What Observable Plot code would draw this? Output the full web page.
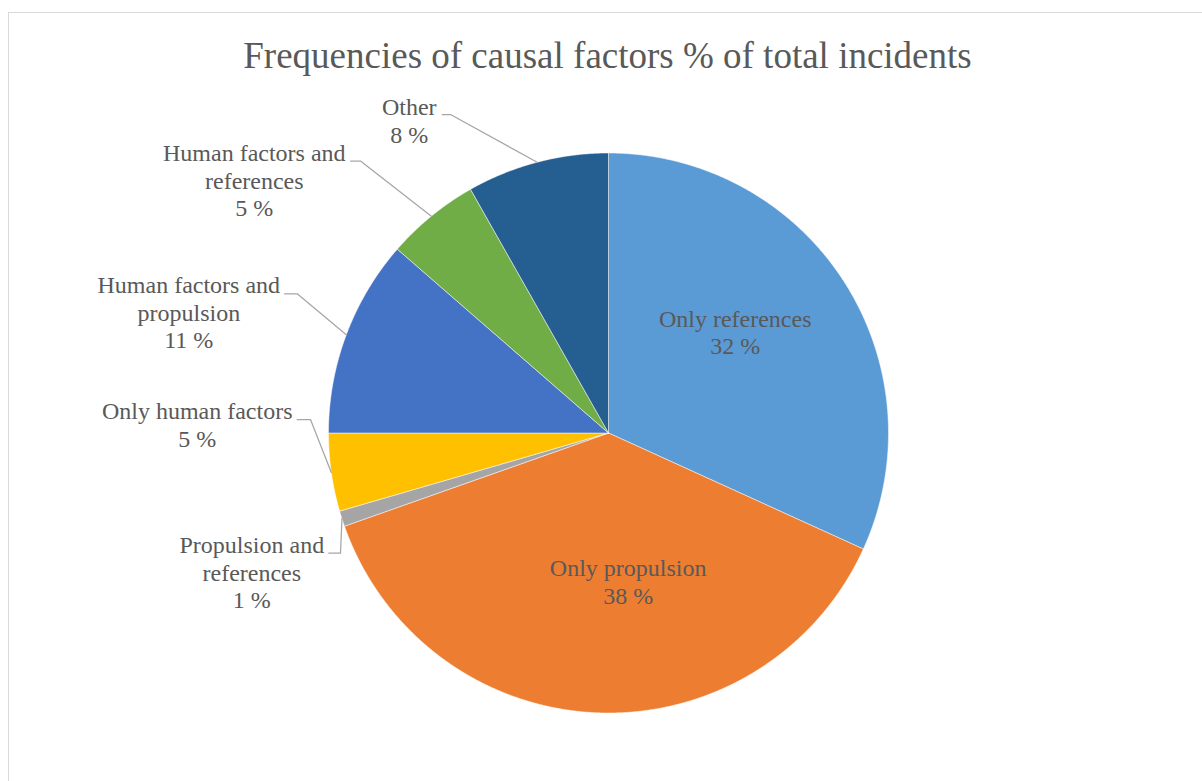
<!DOCTYPE html>
<html><head><meta charset="utf-8">
<script src="https://cdn.jsdelivr.net/npm/d3@7"></script>
<script src="https://cdn.jsdelivr.net/npm/@observablehq/plot@0.6"></script>
<style>
html,body{margin:0;padding:0;background:#fff;overflow:hidden;}
body{width:1202px;height:781px;position:relative;font-family:"Liberation Serif","Times New Roman",serif;}
#frame{position:absolute;left:8px;top:12px;width:1240px;height:820px;border:1px solid #d9d9d9;box-sizing:border-box;}
#title{position:absolute;left:0;top:37px;width:1215px;text-align:center;font-size:37px;line-height:1;color:#595959;white-space:nowrap;}
#chart{position:absolute;left:0;top:0;}
</style></head><body>
<div id="frame"></div>
<div id="chart"></div>
<div id="title">Frequencies of causal factors % of total incidents</div>
<script>
// ---- data ----
const categories = ["Only references","Only propulsion","Propulsion and references","Only human factors","Human factors and propulsion","Human factors and references","Other"];
const values = [31.8, 37.8, 0.9, 4.5, 11.4, 5.4, 8.2];
const colors = ["#5B9BD5","#ED7D31","#A5A5A5","#FFC000","#4472C4","#70AD47","#255E91"];
const labelLines = [["Only references"],["Only propulsion"],["Propulsion and","references"],["Only human factors"],["Human factors and","propulsion"],["Human factors and","references"],["Other"]];

// ---- layout (pixels) ----
const CX = 608, CY = 432.5, R = 280;
const labelPos = [[734.7,326.7],[627.7,576],[251.3,553.3],[196.7,419.3],[188.3,293.3],[253.8,161],[408.8,115]];
const leaderPos = [null,null,[328.3,340,552.7],[296.7,310,419],[284,296.7,293.3],[350,360,160.5],[441.7,450,114]];
const toX = px => (px - CX) / R, toY = py => (CY - py) / R;

const arcs = d3.pie().sort(null).value(d => d)(values);
const slicePts = [];
arcs.forEach((a, i) => {
  const name = categories[i];
  slicePts.push({name, x: 0, y: 0});
  const n = Math.max(2, Math.ceil((a.endAngle - a.startAngle) / 0.005));
  for (let k = 0; k <= n; k++) {
    const t = a.startAngle + (a.endAngle - a.startAngle) * k / n;
    slicePts.push({name, x: Math.sin(t), y: Math.cos(t)});
  }
  slicePts.push({name, x: 0, y: 0});
});

const labels = arcs.map((a, i) => ({
  x: toX(labelPos[i][0]),
  y: toY(labelPos[i][1] - 20),
  text: labelLines[i].join("\n") + "\n" + Math.round(values[i]) + " %"
}));

const leaders = [];
arcs.forEach((a, i) => {
  const L = leaderPos[i];
  if (!L) return;
  const mid = (a.startAngle + a.endAngle) / 2;
  leaders.push({id: i, x: toX(L[0]), y: toY(L[2])});
  leaders.push({id: i, x: toX(L[1]), y: toY(L[2])});
  leaders.push({id: i, x: Math.sin(mid), y: Math.cos(mid)});
});

const chart = Plot.plot({
  width: 1202, height: 781, margin: 0,
  x: {domain: [-1, 1], range: [CX - R, CX + R], axis: null},
  y: {domain: [-1, 1], range: [CY + R, CY - R], axis: null},
  color: {domain: categories, range: colors},
  style: {background: "transparent"},
  marks: [
    Plot.line(slicePts, {x: "x", y: "y", z: "name", fill: "name", stroke: "white", strokeWidth: 0.5, strokeLinejoin: "round"}),
    Plot.line(leaders, {x: "x", y: "y", z: "id", stroke: "#a6a6a6", strokeWidth: 1.25, curve: "linear"}),
    Plot.text(labels, {x: "x", y: "y", text: "text", textAnchor: "middle", lineAnchor: "top", lineHeight: 1.146,
      fontSize: 24, fontFamily: "Liberation Serif", fill: "#595959"})
  ]
});
document.getElementById("chart").appendChild(chart);
</script>
</body></html>
